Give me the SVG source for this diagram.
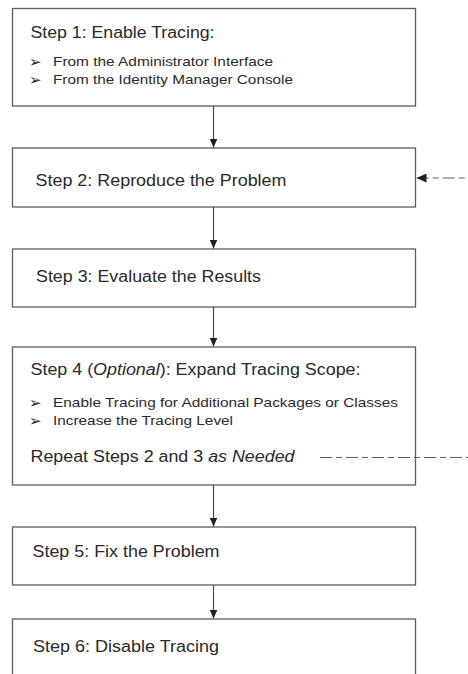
<svg xmlns="http://www.w3.org/2000/svg" width="468" height="674" viewBox="0 0 468 674">
  <style>
    .box { fill: #ffffff; stroke: #5c5c5c; stroke-width: 1.3; }
    .title { font-family: "Liberation Sans", Arial, sans-serif; font-size: 16px; fill: #2a2a2a; }
    .item { font-family: "Liberation Sans", Arial, sans-serif; font-size: 13.5px; fill: #2a2a2a; }
    .bullet { font-family: "DejaVu Sans", sans-serif; font-size: 15px; fill: #2a2a2a; }
    .flow { fill: none; stroke: #4a4a4a; stroke-width: 1.2; }
    .loop { fill: none; stroke: #5a5a5a; stroke-width: 1.2; stroke-dasharray: 12 4 6 4; }
  </style>
  <defs>
    <!-- filled triangular heads, drawn pointing along +x and rotated to the line -->
    <marker id="arrowHead" markerUnits="userSpaceOnUse" markerWidth="10" markerHeight="8" refX="9" refY="4" orient="auto" viewBox="0 0 10 8">
      <path d="M0,0 L9,4 L0,8 Z" fill="#1e1e1e"/>
    </marker>
    <marker id="arrowLoop" markerUnits="userSpaceOnUse" markerWidth="11" markerHeight="9" refX="10" refY="4.5" orient="auto" viewBox="0 0 11 9">
      <path d="M0,0 L10,4.5 L0,9 Z" fill="#1e1e1e"/>
    </marker>
  </defs>

  <rect width="468" height="674" fill="#ffffff"/>

  <g id="step1">
    <rect class="box" x="12.5" y="8.5" width="403" height="97.5"/>
    <text class="title" x="30.5" y="38" textLength="184" lengthAdjust="spacingAndGlyphs">Step 1: Enable Tracing:</text>
    <text class="bullet" x="29" y="66.5">➢</text>
    <text class="item" x="53" y="65.5" textLength="220" lengthAdjust="spacingAndGlyphs">From the Administrator Interface</text>
    <text class="bullet" x="29" y="84.5">➢</text>
    <text class="item" x="53" y="83.5" textLength="240" lengthAdjust="spacingAndGlyphs">From the Identity Manager Console</text>
  </g>

  <g id="step2">
    <rect class="box" x="12.5" y="148" width="403" height="59"/>
    <text class="title" x="35.5" y="186" textLength="251" lengthAdjust="spacingAndGlyphs">Step 2: Reproduce the Problem</text>
  </g>

  <g id="step3">
    <rect class="box" x="12.5" y="249" width="403" height="58"/>
    <text class="title" x="36" y="282" textLength="225" lengthAdjust="spacingAndGlyphs">Step 3: Evaluate the Results</text>
  </g>

  <g id="step4">
    <rect class="box" x="12.5" y="347" width="403" height="138"/>
    <text class="title" x="30.5" y="375" textLength="330" lengthAdjust="spacingAndGlyphs">Step 4 (<tspan font-style="italic">Optional</tspan>): Expand Tracing Scope:</text>
    <text class="bullet" x="29" y="407.5">➢</text>
    <text class="item" x="53" y="406.5" textLength="345" lengthAdjust="spacingAndGlyphs">Enable Tracing for Additional Packages or Classes</text>
    <text class="bullet" x="29" y="426">➢</text>
    <text class="item" x="53" y="425" textLength="180" lengthAdjust="spacingAndGlyphs">Increase the Tracing Level</text>
    <text class="title" x="30.5" y="462" textLength="264" lengthAdjust="spacingAndGlyphs">Repeat Steps 2 and 3 <tspan font-style="italic">as Needed</tspan></text>
  </g>

  <g id="step5">
    <rect class="box" x="12.5" y="527" width="403" height="58"/>
    <text class="title" x="32.5" y="557" textLength="187" lengthAdjust="spacingAndGlyphs">Step 5: Fix the Problem</text>
  </g>

  <g id="step6">
    <rect class="box" x="12.5" y="619" width="403" height="62"/>
    <text class="title" x="33" y="652" textLength="186" lengthAdjust="spacingAndGlyphs">Step 6: Disable Tracing</text>
  </g>

  <g id="connectors">
    <line class="flow" x1="213.5" y1="106" x2="213.5" y2="147.5" marker-end="url(#arrowHead)"/>
    <line class="flow" x1="213.5" y1="207" x2="213.5" y2="248.5" marker-end="url(#arrowHead)"/>
    <line class="flow" x1="213.5" y1="307" x2="213.5" y2="346.5" marker-end="url(#arrowHead)"/>
    <line class="flow" x1="213.5" y1="485" x2="213.5" y2="526.5" marker-end="url(#arrowHead)"/>
    <line class="flow" x1="213.5" y1="585" x2="213.5" y2="618.5" marker-end="url(#arrowHead)"/>
    <!-- loop back from step 4 to step 2, its vertical run sits on the right border -->
    <path class="loop" d="M320,457.5 H468.6 V178 H416.5" marker-end="url(#arrowLoop)"/>
  </g>
</svg>
